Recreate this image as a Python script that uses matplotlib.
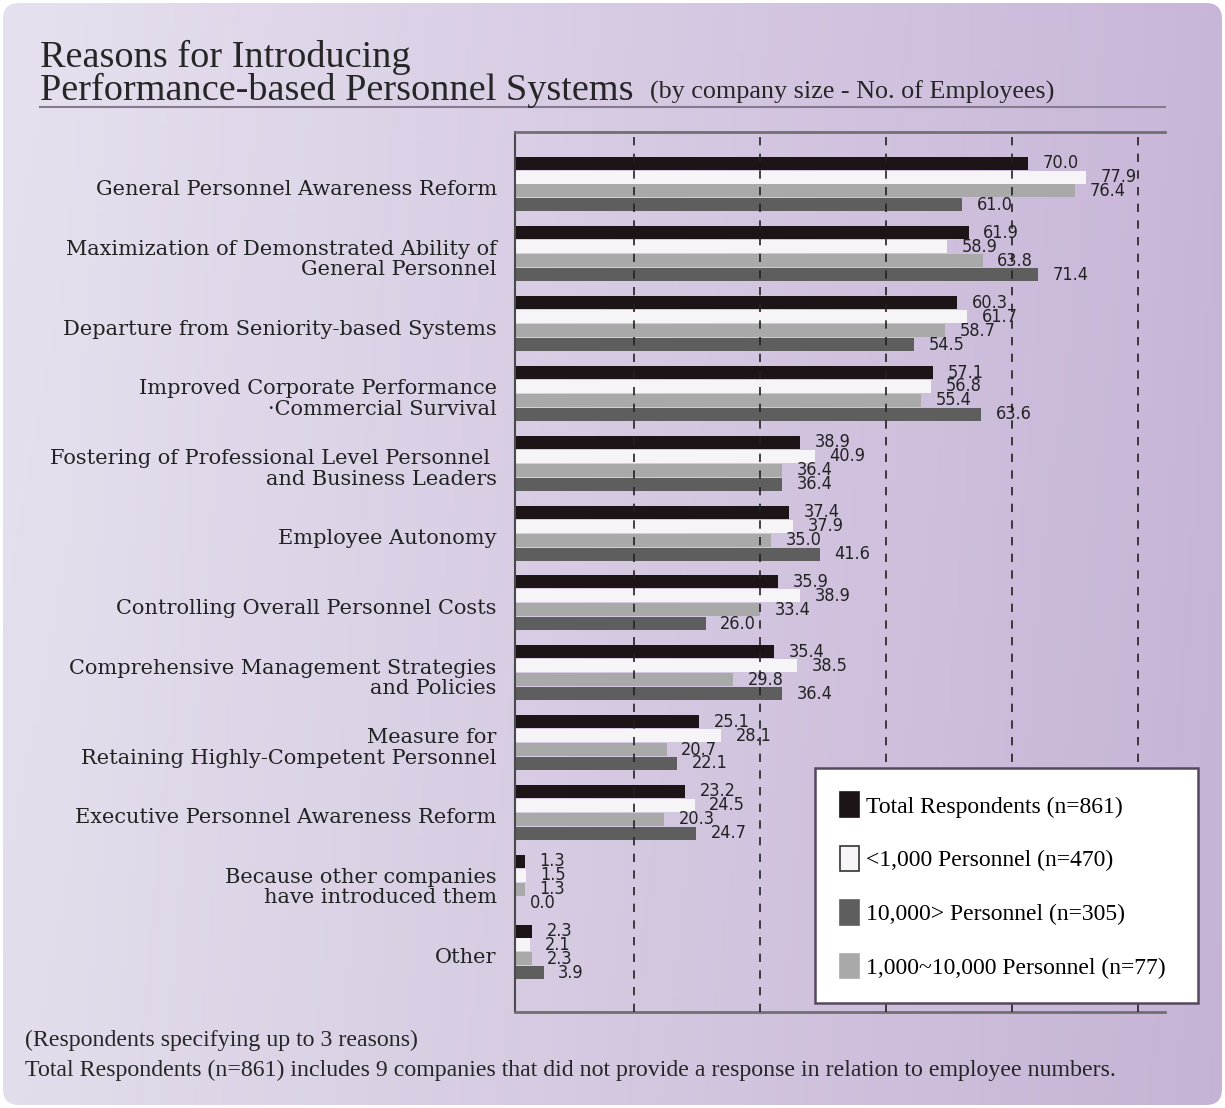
import numpy as np
import matplotlib
matplotlib.use("Agg")
import matplotlib.pyplot as plt
from matplotlib.patches import FancyBboxPatch, Rectangle, Patch

# data (percent, respondents specifying up to 3 reasons)
categories = [
    "General Personnel Awareness Reform",
    "Maximization of Demonstrated Ability of\nGeneral Personnel",
    "Departure from Seniority-based Systems",
    "Improved Corporate Performance\n\u00b7Commercial Survival",
    "Fostering of Professional Level Personnel \nand Business Leaders",
    "Employee Autonomy",
    "Controlling Overall Personnel Costs",
    "Comprehensive Management Strategies\nand Policies",
    "Measure for\nRetaining Highly-Competent Personnel",
    "Executive Personnel Awareness Reform",
    "Because other companies\nhave introduced them",
    "Other",
]
total = [70.0, 61.9, 60.3, 57.1, 38.9, 37.4, 35.9, 35.4, 25.1, 23.2, 1.3, 2.3]
small = [77.9, 58.9, 61.7, 56.8, 40.9, 37.9, 38.9, 38.5, 28.1, 24.5, 1.5, 2.1]
medium = [76.4, 63.8, 58.7, 55.4, 36.4, 35.0, 33.4, 29.8, 20.7, 20.3, 1.3, 2.3]
large = [61.0, 71.4, 54.5, 63.6, 36.4, 41.6, 26.0, 36.4, 22.1, 24.7, 0.0, 3.9]

series_labels = ["Total Respondents (n=861)", "<1,000 Personnel (n=470)",
                 "1,000~10,000 Personnel (n=77)", "10,000> Personnel (n=305)"]
series_colors = ["#1c1416", "#f6f4f6", "#a9a9a9", "#5e5e5e"]
grid_x = [16.3, 33.5, 50.6, 67.8, 85.0]

W, H = 1225, 1108
fig = plt.figure(figsize=(W / 100, H / 100), dpi=100)
fig.patch.set_facecolor("white")

# background panel with purple gradient
bg = fig.add_axes([0, 0, 1, 1])
bg.set_xlim(0, W)
bg.set_ylim(H, 0)
bg.axis("off")
c_left = np.array([0.905, 0.882, 0.937])
c_right = np.array([0.785, 0.715, 0.850])
t = np.linspace(0, 1, 300)
row = c_left[None, :] * (1 - t[:, None]) + c_right[None, :] * t[:, None]
vert = np.linspace(1.0, 0.985, 200)
img = row[None, :, :] * vert[:, None, None]
im = bg.imshow(img, extent=[3, W - 3, H - 3, 3], aspect="auto", zorder=0)
r = 16
panel = FancyBboxPatch((3 + r, 3 + r), W - 6 - 2 * r, H - 6 - 2 * r,
                       boxstyle=f"round,pad={r}", facecolor="none", edgecolor="none")
bg.add_patch(panel)
im.set_clip_path(panel)

# title
serif = "Liberation Serif"
ink = "#262626"
bg.text(40, 67, "Reasons for Introducing", fontsize=27.5, family=serif, color=ink)
bg.text(40, 100, "Performance-based Personnel Systems", fontsize=27.5, family=serif, color=ink)
bg.text(650, 99, "(by company size - No. of Employees)", fontsize=18.8, family=serif, color=ink)
bg.plot([40, 1165], [107, 107], color="#857a90", lw=1.5)

# footnotes
bg.text(25, 1046, "(Respondents specifying up to 3 reasons)", fontsize=17.2, family=serif, color=ink)
bg.text(25, 1076, "Total Respondents (n=861) includes 9 companies that did not provide a response "
        "in relation to employee numbers.", fontsize=17.2, family=serif, color=ink)

# main chart
ax = fig.add_axes([515 / W, 1 - 1012 / H, 650 / W, 880 / H])
ax.patch.set_alpha(0)
y = np.arange(len(categories))
bar_h = 0.2
for j, vals in enumerate([total, small, medium, large]):
    pos = y + (j - 1.5) * bar_h
    ax.barh(pos, vals, height=bar_h * 0.93, color=series_colors[j], zorder=2)
    for p, v in zip(pos, vals):
        ax.text(v + 2.0, p, f"{v:.1f}", va="center", ha="left", fontsize=13,
                family="DejaVu Sans", fontstretch="condensed", color="#222222", zorder=4)

for g in grid_x:
    ax.axvline(g, color="#222222", lw=1.2, ls=(0, (5, 5)), zorder=3)

ax.set_xlim(0, 88.7)
ax.set_ylim(11.86, -0.745)
ax.set_xticks([])
ax.set_yticks([])
ax.spines["right"].set_visible(False)
ax.spines["left"].set_color("#4a4a4a")
ax.spines["left"].set_linewidth(1.5)
for s in ["top", "bottom"]:
    ax.spines[s].set_color("#707070")
    ax.spines[s].set_linewidth(2)

for i, cat in enumerate(categories):
    ax.text(-0.028, i + 0.08, cat, transform=ax.get_yaxis_transform(), ha="right", va="center",
            fontsize=15, family="DejaVu Serif", color="#222222", linespacing=1.1)

# legend box
ax.add_patch(Rectangle((815 / W, 1 - 1003 / H), 383 / W, 235 / H, transform=fig.transFigure,
                       facecolor="white", edgecolor="#55485f", lw=1.8, zorder=6, clip_on=False))
order = [0, 1, 3, 2]
handles = [Patch(facecolor=series_colors[k], edgecolor="#333333" if k == 1 else series_colors[k],
                 lw=1.2) for k in order]
fig.legend(handles, [series_labels[k] for k in order], loc="upper left",
           bbox_to_anchor=(819 / W, 1 - 771 / H), frameon=False,
           prop={"family": serif, "size": 17}, handlelength=0.8, handleheight=1.25,
           labelspacing=1.2, handletextpad=0.3)

fig.savefig("out.png", dpi=100)
